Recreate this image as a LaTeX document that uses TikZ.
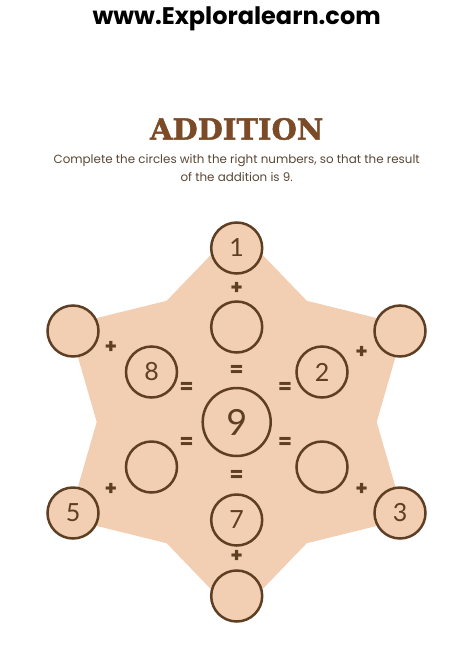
\documentclass[tikz,border=0pt]{standalone}
\usepackage{fontspec}
\usepackage{tikz}
\usetikzlibrary{calc}
\setmainfont{Poppins}
\newfontfamily\titlefont{DejaVu Serif}[FakeBold=1.6]
\newfontfamily\numfont{Lato}

\definecolor{starpeach}{HTML}{F2CEB2}
\definecolor{ringbrown}{HTML}{5E3F24}
\definecolor{titlebrown}{HTML}{7B4A26}
\definecolor{textbrown}{HTML}{5A4634}

\begin{document}
\begin{tikzpicture}[x=1pt, y=-1pt,
    ring/.style={circle, draw=ringbrown, line width=2.5pt, fill=starpeach,
        minimum size=51pt, inner sep=0pt, text=ringbrown, font=\numfont\fontsize{25}{25}\selectfont},
    bigring/.style={ring, minimum size=68pt, font=\numfont\fontsize{36}{36}\selectfont},
    sign/.style={text=ringbrown, inner sep=0pt, font=\bfseries\fontsize{20}{20}\selectfont}]

        \useasboundingbox (0,0) rectangle (474,670);

        %coordinates
        \coordinate (S) at (236.7,422); % star centre

        %header
        \node (url) at (236.7,19) {\bfseries\fontsize{24}{24}\selectfont www.Exploralearn.com};
        \node[text=titlebrown] (title) at (236.7,129) {\titlefont\bfseries\fontsize{29}{29}\selectfont ADDITION};
        \node[text=textbrown, align=center, font=\fontsize{11.9}{18}\selectfont] (task) at (236.7,168)
        {Complete the circles with the right numbers, so that the result \\ of the addition is 9.};

        %star
        \fill[starpeach] ($(S)+(90:194)$) \foreach \a in {0,60,...,300}{
            -- ($(S)+(\a+120:140)$) -- ($(S)+(\a+150:194)$) } -- cycle;

        %outer circles
        \foreach \n/\x/\y/\t in {O1/236.7/248/1, O2/73/331/, O3/400/331/,
            O4/73/513/5, O5/400/513/3, O6/236.7/596/}
        \node[ring] (\n) at (\x,\y) {\t};

        %inner circles
        \foreach \n/\x/\y/\t in {I1/236.7/327/, I2/151.5/372/8, I3/322/372/2,
            I4/151.5/467/, I5/322/467/, I6/236.7/520/7}
        \node[ring] (\n) at (\x,\y) {\t};

        %centre
        \node[bigring] (M) at (S) {9};

        %plus signs
        \foreach \n/\x/\y in {P1/236.7/288, P2/111/347, P3/361.7/352.7,
            P4/111/489, P5/361.7/489, P6/236.7/556}
        \node[sign] (\n) at (\x,\y) {+};

        %equal signs
        \foreach \n/\x/\y in {E1/236.7/371, E2/186.7/388, E3/285/388,
            E4/186.7/443, E5/285/443, E6/236.7/476}
        \node[sign] (\n) at (\x,\y) {=};

\end{tikzpicture}
\end{document}
